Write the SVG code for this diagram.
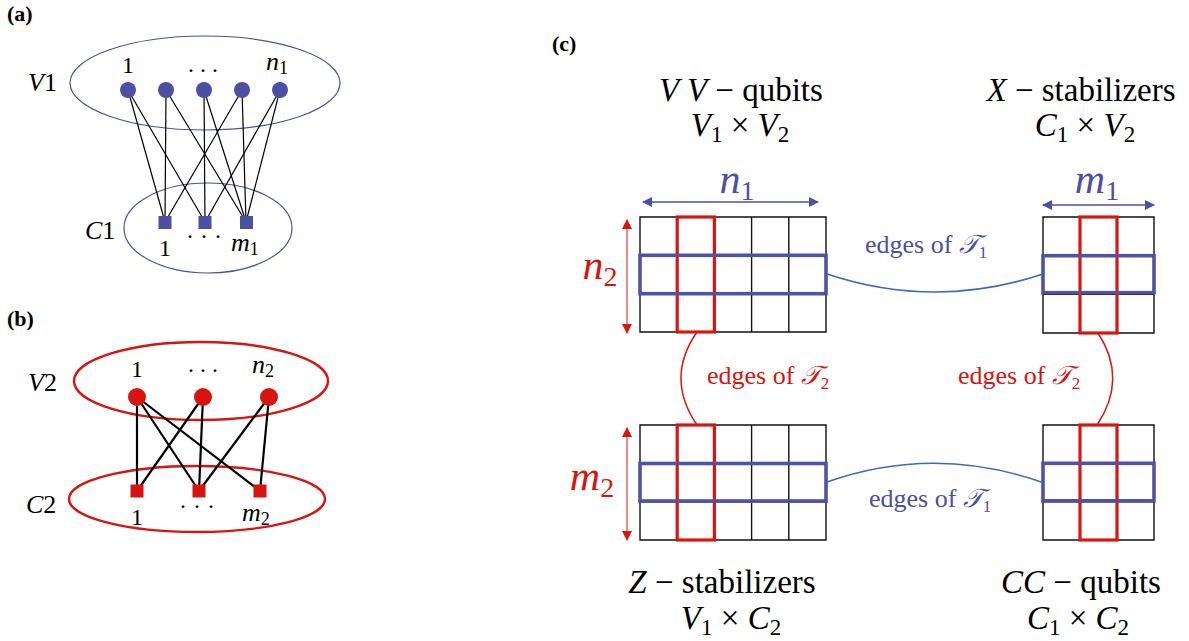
<svg xmlns="http://www.w3.org/2000/svg" width="1189" height="641" viewBox="0 0 1189 641">
<defs>
<style>
text{font-family:"Liberation Serif","DejaVu Serif",serif;fill:#000}
.panel{font-weight:bold;font-size:22px}
.lbl{font-size:24px}
.var{font-style:italic;font-size:26px}
.it{font-style:italic}
.hd{font-size:33px}
.big{font-size:42px}
.edge{font-size:26px}
.blueT{fill:#4d4fa3}
.redT{fill:#d7140f}
.ea{stroke:#000;stroke-width:1.2;fill:none}
.eb{stroke:#000;stroke-width:2.2;fill:none}
.grid{stroke:#111;stroke-width:1.4;fill:none}
.rrect{stroke:#dc1410;stroke-width:3.2;fill:none}
.brect{stroke:#5052a4;stroke-width:3.6;fill:none}
.bcurve{stroke:#3d6bb2;stroke-width:1.6;fill:none}
.rcurve{stroke:#dc1410;stroke-width:1.5;fill:none}
</style>
<marker id="ab" viewBox="0 0 10 10" refX="9" refY="5" markerWidth="10" markerHeight="10" markerUnits="userSpaceOnUse" orient="auto-start-reverse"><path d="M0,0 L10,5 L0,10 z" fill="#4d4fa3"/></marker>
<marker id="ar" viewBox="0 0 10 10" refX="9" refY="5" markerWidth="10" markerHeight="10" markerUnits="userSpaceOnUse" orient="auto-start-reverse"><path d="M0,0 L10,5 L0,10 z" fill="#dc1410"/></marker>
</defs>

<!-- Panel (a) -->
<text class="panel" x="7" y="21">(a)</text>
<g id="a-V1">
<ellipse cx="205" cy="83" rx="135" ry="47" fill="none" stroke="#4d4fa3" stroke-width="1.2"/>
<text class="var" x="28" y="91">V<tspan font-style="normal">1</tspan></text>
<text class="lbl" x="128" y="73" text-anchor="middle">1</text>
<text class="lbl" x="203" y="72" text-anchor="middle">. . .</text>
<text class="var" x="266" y="70" font-size="25">n<tspan font-style="normal" font-size="18" dy="4">1</tspan></text>
</g>
<g id="a-C1">
<ellipse cx="208" cy="228" rx="84" ry="45" fill="none" stroke="#4d4fa3" stroke-width="1.2"/>
<text class="var" x="85" y="239">C<tspan font-style="normal">1</tspan></text>
<text class="lbl" x="165" y="256" text-anchor="middle">1</text>
<text class="lbl" x="204" y="244" text-anchor="middle">· · ·</text>
<text class="var" x="231" y="251" font-size="25">m<tspan font-style="normal" font-size="18" dy="4">1</tspan></text>
</g>
<g id="a-edges">
<line class="ea" x1="128" y1="90" x2="165" y2="222"/>
<line class="ea" x1="128" y1="90" x2="205" y2="222"/>
<line class="ea" x1="166" y1="90" x2="165" y2="222"/>
<line class="ea" x1="166" y1="90" x2="246" y2="222"/>
<line class="ea" x1="204" y1="90" x2="205" y2="222"/>
<line class="ea" x1="204" y1="90" x2="246" y2="222"/>
<line class="ea" x1="242" y1="90" x2="165" y2="222"/>
<line class="ea" x1="242" y1="90" x2="246" y2="222"/>
<line class="ea" x1="280" y1="90" x2="205" y2="222"/>
<line class="ea" x1="280" y1="90" x2="246" y2="222"/>
</g>
<g id="a-nodes" fill="#4d4fa3">
<circle cx="128" cy="90" r="8"/>
<circle cx="166" cy="90" r="8"/>
<circle cx="204" cy="90" r="8"/>
<circle cx="242" cy="90" r="8"/>
<circle cx="280" cy="90" r="8"/>
<rect x="158.5" y="216" width="13" height="13"/>
<rect x="198.5" y="216" width="13" height="13"/>
<rect x="240" y="216" width="13" height="13"/>
</g>

<!-- Panel (b) -->
<text class="panel" x="7" y="326">(b)</text>
<g id="b-V2">
<ellipse cx="201" cy="381" rx="127" ry="39" fill="none" stroke="#d7140f" stroke-width="2.4"/>
<text class="var" x="28" y="391">V<tspan font-style="normal">2</tspan></text>
<text class="lbl" x="137" y="377" text-anchor="middle">1</text>
<text class="lbl" x="203" y="372" text-anchor="middle">. . .</text>
<text class="var" x="252" y="373" font-size="25">n<tspan font-style="normal" font-size="18" dy="4">2</tspan></text>
</g>
<g id="b-C2">
<ellipse cx="197" cy="499" rx="128" ry="33" fill="none" stroke="#d7140f" stroke-width="2.4"/>
<text class="var" x="26" y="513">C<tspan font-style="normal">2</tspan></text>
<text class="lbl" x="137" y="525" text-anchor="middle">1</text>
<text class="lbl" x="197" y="514" text-anchor="middle">· · ·</text>
<text class="var" x="242" y="521" font-size="25">m<tspan font-style="normal" font-size="18" dy="4">2</tspan></text>
</g>
<g id="b-edges">
<line class="eb" x1="137" y1="397" x2="137" y2="491"/>
<line class="eb" x1="137" y1="397" x2="199" y2="491"/>
<line class="eb" x1="137" y1="397" x2="260" y2="491"/>
<line class="eb" x1="203" y1="397" x2="137" y2="491"/>
<line class="eb" x1="203" y1="397" x2="199" y2="491"/>
<line class="eb" x1="269" y1="397" x2="199" y2="491"/>
<line class="eb" x1="269" y1="397" x2="260" y2="491"/>
</g>
<g id="b-nodes" fill="#d7140f">
<circle cx="137" cy="397" r="9"/>
<circle cx="203" cy="397" r="9"/>
<circle cx="269" cy="397" r="9"/>
<rect x="130.5" y="484.5" width="13" height="13"/>
<rect x="192.5" y="484.5" width="13" height="13"/>
<rect x="253.5" y="484.5" width="13" height="13"/>
</g>

<!-- Panel (c) -->
<text class="panel" x="552" y="51">(c)</text>

<g id="c-VV">
<text class="hd" x="741" y="101" text-anchor="middle"><tspan class="it">V V</tspan> − qubits</text>
<text class="hd" x="740" y="136" text-anchor="middle"><tspan class="it">V</tspan><tspan font-size="23" dy="6">1</tspan><tspan dy="-6"> × </tspan><tspan class="it">V</tspan><tspan font-size="23" dy="6">2</tspan></text>
<path class="grid" d="M640,217H826V332H640Z M677.2,217V332 M714.4,217V332 M751.6,217V332 M788.8,217V332 M640,255.3H826 M640,293.7H826"/>
<rect class="rrect" x="677.2" y="217" width="37.2" height="115"/>
<rect class="brect" x="640" y="255.3" width="186" height="38.4"/>
<line x1="643" y1="202" x2="818" y2="202" stroke="#4d4fa3" stroke-width="1.3" marker-start="url(#ab)" marker-end="url(#ab)"/>
<text class="big it blueT" x="737" y="193" text-anchor="middle">n<tspan font-style="normal" font-size="28" dy="7">1</tspan></text>
<line x1="627" y1="220" x2="627" y2="333" stroke="#dc1410" stroke-width="1" marker-start="url(#ar)" marker-end="url(#ar)"/>
<text class="big it redT" x="600" y="279" text-anchor="middle">n<tspan font-style="normal" font-size="28" dy="7">2</tspan></text>
</g>

<g id="c-X">
<text class="hd" x="1081" y="101" text-anchor="middle"><tspan class="it">X</tspan> − stabilizers</text>
<text class="hd" x="1085" y="136" text-anchor="middle"><tspan class="it">C</tspan><tspan font-size="23" dy="6">1</tspan><tspan dy="-6"> × </tspan><tspan class="it">V</tspan><tspan font-size="23" dy="6">2</tspan></text>
<path class="grid" d="M1043,217H1154V333H1043Z M1080,217V333 M1117,217V333 M1043,255.7H1154 M1043,294.3H1154"/>
<rect class="rrect" x="1080" y="217" width="37" height="116"/>
<rect class="brect" x="1043" y="255.7" width="111" height="37"/>
<line x1="1043" y1="205" x2="1154" y2="205" stroke="#4d4fa3" stroke-width="1.3" marker-start="url(#ab)" marker-end="url(#ab)"/>
<text class="big it blueT" x="1097" y="193" text-anchor="middle">m<tspan font-style="normal" font-size="28" dy="7">1</tspan></text>
</g>

<g id="c-Z">
<text class="hd" x="722" y="593" text-anchor="middle"><tspan class="it">Z</tspan> − stabilizers</text>
<text class="hd" x="731" y="629" text-anchor="middle"><tspan class="it">V</tspan><tspan font-size="23" dy="6">1</tspan><tspan dy="-6"> × </tspan><tspan class="it">C</tspan><tspan font-size="23" dy="6">2</tspan></text>
<path class="grid" d="M640,425H826V540H640Z M677.2,425V540 M714.4,425V540 M751.6,425V540 M788.8,425V540 M640,463.3H826 M640,501.7H826"/>
<rect class="rrect" x="677.2" y="425" width="37.2" height="115"/>
<rect class="brect" x="640" y="463.5" width="186" height="37.5"/>
<line x1="627" y1="428" x2="627" y2="540" stroke="#dc1410" stroke-width="1" marker-start="url(#ar)" marker-end="url(#ar)"/>
<text class="big it redT" x="592" y="490" text-anchor="middle">m<tspan font-style="normal" font-size="28" dy="7">2</tspan></text>
</g>

<g id="c-CC">
<text class="hd" x="1081" y="593" text-anchor="middle"><tspan class="it">CC</tspan> − qubits</text>
<text class="hd" x="1078" y="629" text-anchor="middle"><tspan class="it">C</tspan><tspan font-size="23" dy="6">1</tspan><tspan dy="-6"> × </tspan><tspan class="it">C</tspan><tspan font-size="23" dy="6">2</tspan></text>
<path class="grid" d="M1043,425H1154V540H1043Z M1080,425V540 M1117,425V540 M1043,463.3H1154 M1043,501.7H1154"/>
<rect class="rrect" x="1080" y="425" width="37" height="115"/>
<rect class="brect" x="1043" y="463.3" width="111" height="37.5"/>
</g>

<g id="connectors">
<path class="bcurve" d="M827,274 Q935,310 1043,274"/>
<path class="bcurve" d="M827,482 Q935,444 1044,483"/>
<path class="rcurve" d="M697,332 Q665,378 697,425"/>
<path class="rcurve" d="M1098,333 Q1128,379 1097,425"/>
<text class="edge blueT" x="865" y="253">edges of <tspan class="it">𝒯</tspan><tspan font-size="17" dy="5">1</tspan></text>
<text class="edge blueT" x="869" y="507">edges of <tspan class="it">𝒯</tspan><tspan font-size="17" dy="5">1</tspan></text>
<text class="edge redT" x="707" y="384">edges of <tspan class="it">𝒯</tspan><tspan font-size="17" dy="5">2</tspan></text>
<text class="edge redT" x="958" y="384">edges of <tspan class="it">𝒯</tspan><tspan font-size="17" dy="5">2</tspan></text>
</g>
</svg>
